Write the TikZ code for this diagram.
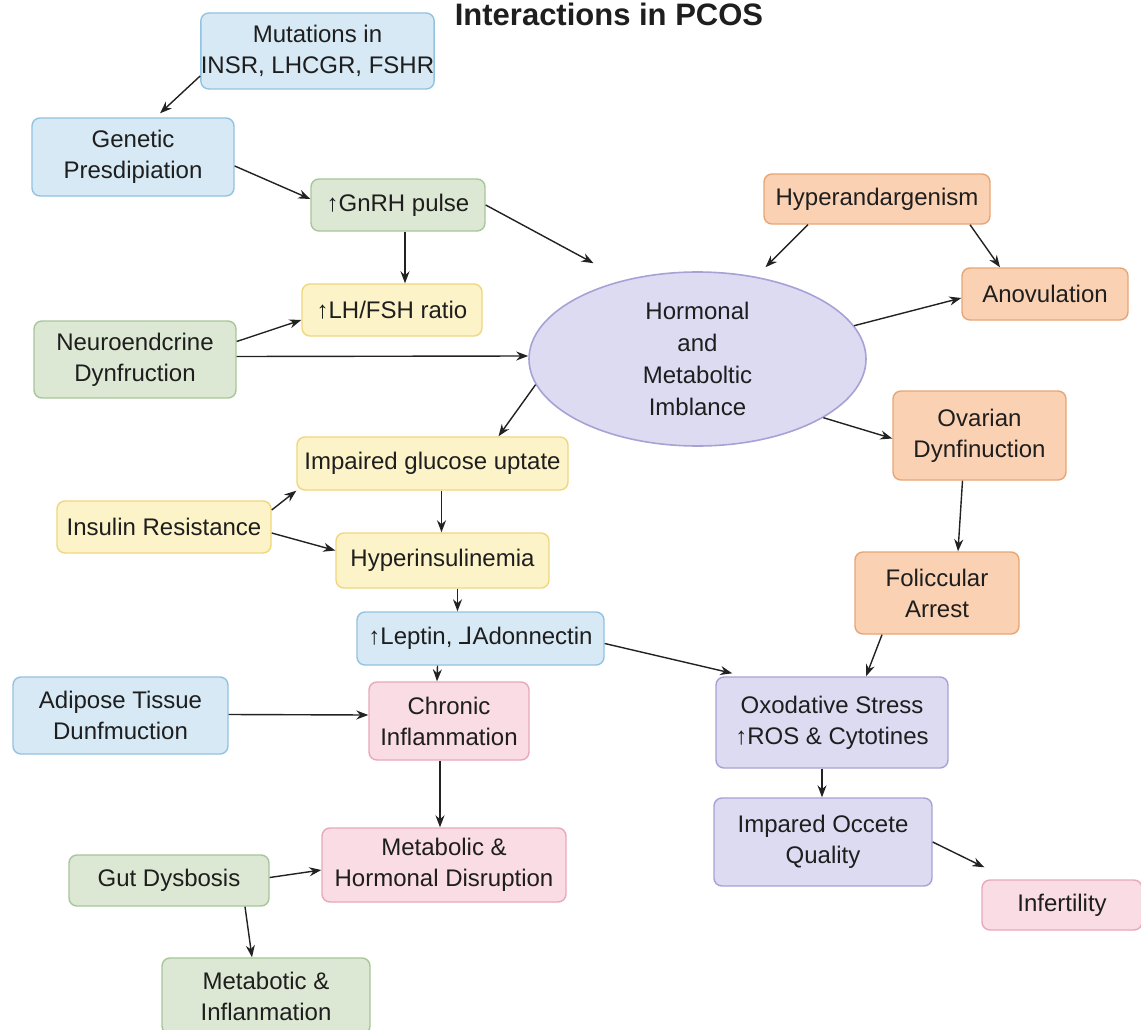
\documentclass[tikz,border=0pt]{standalone}
\usepackage{fontspec}
\setmainfont{Liberation Sans}
\newfontfamily\djv{DejaVu Sans}
\usetikzlibrary{shapes.geometric,arrows.meta}
\definecolor{txt}{HTML}{1E1E1E}
\definecolor{bluef}{HTML}{D6E9F5}\definecolor{blued}{HTML}{92C3E0}
\definecolor{greenf}{HTML}{DCE8D3}\definecolor{greend}{HTML}{A8C699}
\definecolor{yellf}{HTML}{FDF3C8}\definecolor{yelld}{HTML}{F0D77C}
\definecolor{oranf}{HTML}{FAD1B2}\definecolor{orand}{HTML}{E8A676}
\definecolor{pinkf}{HTML}{F9DCE4}\definecolor{pinkd}{HTML}{E8A8B9}
\definecolor{purf}{HTML}{DDDBF2}\definecolor{purd}{HTML}{A7A2D6}
\definecolor{arr}{HTML}{222222}
\tikzset{
  box/.style={draw, rounded corners=8pt, line width=1.4pt, align=center, inner sep=0pt,
    text=txt, font=\fontsize{24}{31}\selectfont},
  bluebox/.style={box, fill=bluef, draw=blued},
  greenbox/.style={box, fill=greenf, draw=greend},
  yellbox/.style={box, fill=yellf, draw=yelld},
  oranbox/.style={box, fill=oranf, draw=orand},
  pinkbox/.style={box, fill=pinkf, draw=pinkd},
  purbox/.style={box, fill=purf, draw=purd},
  sz/.style 2 args={minimum width=#1pt, minimum height=#2pt},
  link/.style={draw=arr, line width=1.4pt, -{Stealth[length=12pt,width=9pt]}},
}
\begin{document}
\begin{tikzpicture}[x=1pt,y=-1pt]
\useasboundingbox[fill=white] (0,0) rectangle (1141,1030);
\node[font=\bfseries\fontsize{31}{35}\selectfont, text=txt, anchor=base] (title) at (609,26) {Interactions in PCOS};

\node[bluebox, sz={227}{76}] (mut) at (317.5,51) {Mutations in\\INSR, LHCGR, FSHR};
\node[bluebox, sz={202}{78}] (gen) at (133,157) {Genetic\\Presdipiation};
\node[greenbox, sz={174}{52}] (gnrh) at (398,205) {↑GnRH pulse};
\node[yellbox, sz={180}{52}] (lh) at (392,310) {↑LH/FSH ratio};
\node[greenbox, sz={202}{77}] (neuro) at (135,359.5) {Neuroendcrine\\Dynfruction};
\node[draw=purd, fill=purf, line width=1.6pt, ellipse, minimum width=337pt, minimum height=174pt,
  inner sep=0pt, align=center, text=txt, font=\fontsize{24}{32}\selectfont] (ell) at (697.5,359)
  {Hormonal\\and\\Metaboltic\\Imblance};
\node[oranbox, sz={226}{50}] (hyp) at (877,199) {Hyperandargenism};
\node[oranbox, sz={166}{52}] (anov) at (1045,294) {Anovulation};
\node[oranbox, sz={173}{89}] (ova) at (979.5,435.5) {Ovarian\\Dynfinuction};
\node[oranbox, sz={164}{82}] (fol) at (937,593) {Foliccular\\Arrest};
\node[yellbox, sz={271}{53}] (imp) at (432.5,463.5) {Impaired glucose uptate};
\node[yellbox, sz={214}{52}] (ins) at (164,527) {Insulin Resistance};
\node[yellbox, sz={213}{55}] (hyi) at (442.5,560.5) {Hyperinsulinemia};
\node[bluebox, sz={247}{53}] (lep) at (480.5,638.5) {↑Leptin, {\djv ⅃}Adonnectin};
\node[bluebox, sz={215}{77}] (adi) at (120.5,715.5) {Adipose Tissue\\Dunfmuction};
\node[pinkbox, sz={160}{78}] (chr) at (449,721) {Chronic\\Inflammation};
\node[purbox, sz={232}{91}] (oxo) at (832,722.5) {Oxodative Stress\\↑ROS \& Cytotines};
\node[purbox, sz={218}{88}] (imd) at (823,842) {Impared Occete\\Quality};
\node[pinkbox, sz={160}{50}] (inf) at (1062,905) {Infertility};
\node[pinkbox, sz={244}{74}] (mh) at (444,865) {Metabolic \&\\Hormonal Disruption};
\node[greenbox, sz={200}{51}] (gut) at (169,880.5) {Gut Dysbosis};
\node[greenbox, sz={208}{76}] (met) at (266,996) {Metabotic \&\\Inflanmation};

\draw[link] ([yshift=-25pt]mut.west) -- ([xshift=27pt,yshift=4pt]gen.north);
\draw[link] ([yshift=-9pt]gen.east) -- ([yshift=6pt]gnrh.west);
\draw[link] ([xshift=7pt]gnrh.south) -- ([xshift=13pt]lh.north);
\draw[link] (gnrh.east) -- ([xshift=-104pt,yshift=8pt]ell.north);
\draw[link] ([yshift=18pt]neuro.east) -- ([yshift=-10pt]lh.west);
\draw[link] ([yshift=3pt]neuro.east) -- ([yshift=3pt]ell.west);
\draw[link] ([xshift=-69pt]hyp.south) -- ([xshift=68pt,yshift=4pt]ell.north);
\draw[link] ([xshift=93pt]hyp.south) -- ([xshift=-45pt]anov.north);
\draw[link] (ell.12) -- ([yshift=-4pt]anov.west);
\draw[link] (ell.-25) -- ([yshift=-3pt]ova.west);
\draw[link] (ell.189) -- ([xshift=66pt]imp.north);
\draw[link] ([yshift=17pt]ins.east) -- (imp.south west);
\draw[link] ([yshift=-6pt]ins.east) -- ([yshift=10pt]hyi.west);
\draw[link] ([xshift=9pt]imp.south) -- ([xshift=-1pt]hyi.north);
\draw[link] ([xshift=15pt]hyi.south) -- ([xshift=-23pt]lep.north);
\draw[link] ([xshift=-43pt]lep.south) -- ([xshift=-12pt]chr.north);
\draw[link] ([yshift=-5pt]lep.east) -- ([xshift=17pt,yshift=3pt]oxo.north west);
\draw[link] ([xshift=-17pt]ova.south) -- ([xshift=21pt]fol.north);
\draw[link] ([xshift=-55pt]fol.south) -- ([xshift=34pt]oxo.north);
\draw[link] ([yshift=1pt]adi.east) -- ([yshift=6pt]chr.west);
\draw[link] ([xshift=-9pt]chr.south) -- ([xshift=-4pt]mh.north);
\draw[link] ([xshift=-10pt]oxo.south) -- ([xshift=-1pt]imd.north);
\draw[link] (imd.east) -- ([xshift=3pt,yshift=12pt]inf.north west);
\draw[link] ([yshift=3pt]gut.east) -- ([yshift=-5pt]mh.west);
\draw[link] ([xshift=76pt]gut.south) -- ([xshift=-14pt]met.north);
\end{tikzpicture}
\end{document}
